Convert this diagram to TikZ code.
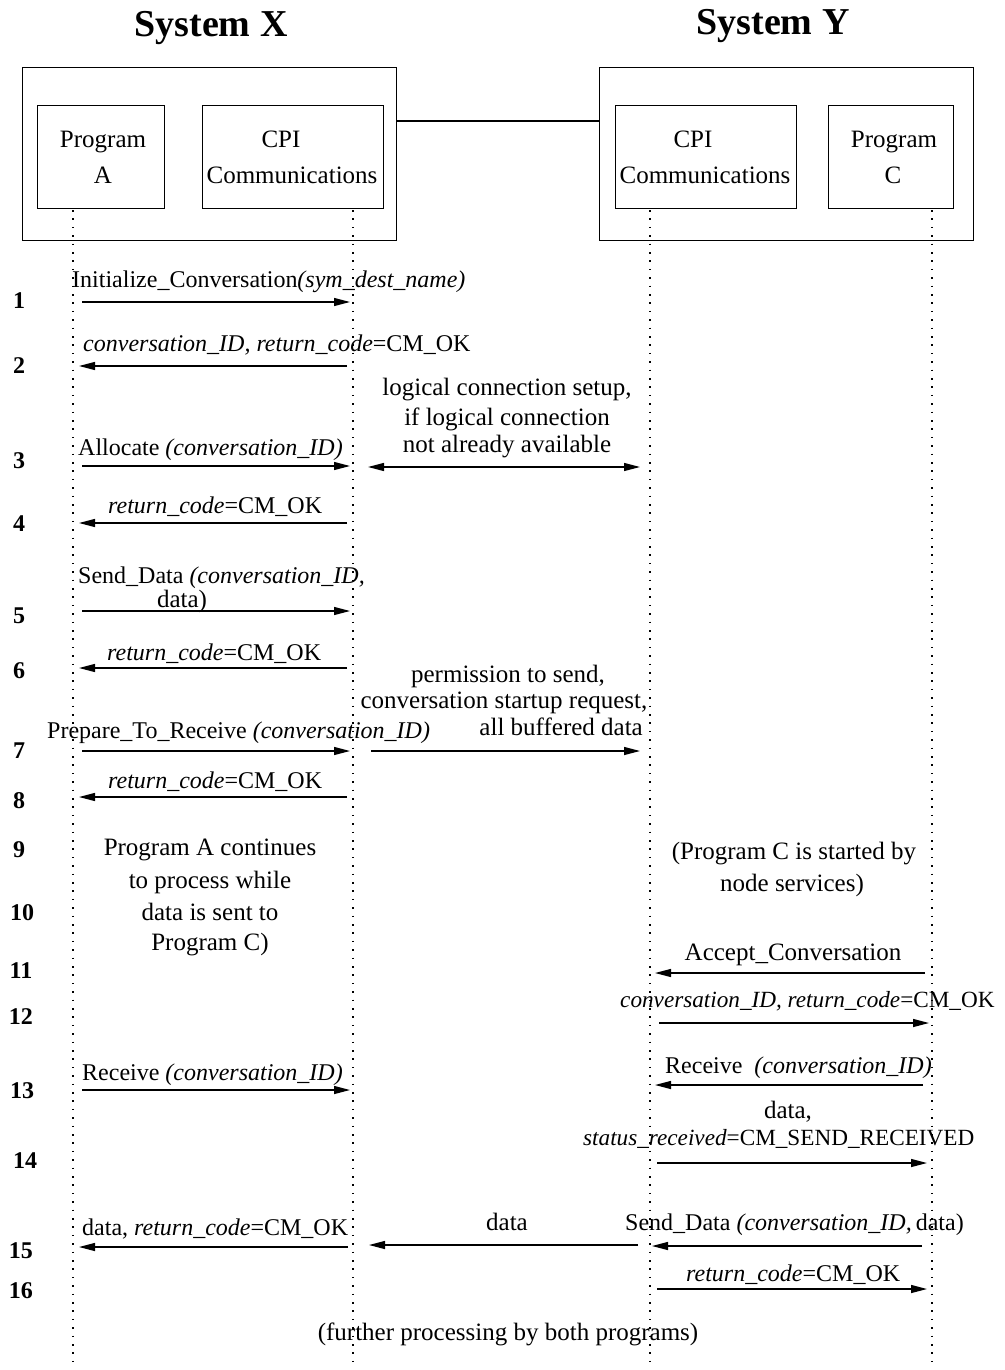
\documentclass[tikz,border=0pt]{standalone}
\usepackage{fontspec}
\setmainfont{Liberation Serif}
\usetikzlibrary{arrows.meta,calc}
\tikzset{
  lbl/.style={font=\fontsize{24}{29}\selectfont, inner sep=0pt, anchor=base},
  lblw/.style={lbl, anchor=base west},
  lble/.style={lbl, anchor=base east},
  up/.style={font=\fontsize{25}{29}\selectfont},
  num/.style={font=\bfseries\fontsize{24}{24}\selectfont, inner sep=0pt, anchor=base},
  ttl/.style={font=\bfseries\fontsize{38}{38}\selectfont, inner sep=0pt, anchor=base},
  box/.style={draw, line width=1.3pt, inner sep=0pt, anchor=north west},
  life/.style={line width=1.6pt, dash pattern=on 1.6pt off 6.8pt},
  msg/.style={line width=1.3pt, -{Triangle[length=16pt,width=8pt]}},
  msgboth/.style={line width=1.3pt, {Triangle[length=16pt,width=8pt]}-{Triangle[length=16pt,width=8pt]}},
  link/.style={line width=1.3pt}
}
\begin{document}
\begin{tikzpicture}[x=1pt,y=-1pt]
\useasboundingbox (0,0) rectangle (1004,1370);

% titles
\node[ttl] (tX) at (211,37) {System X};
\node[ttl] (tY) at (773,35) {System Y};

% system boxes
\node[box, minimum width=374pt, minimum height=173pt] (sysX) at (22,67) {};
\node[box, minimum width=374pt, minimum height=173pt] (sysY) at (599,67) {};
\draw[link] ($(sysX.north east)+(0,54)$) -- ($(sysY.north west)+(0,54)$);

% inner boxes
\node[box, minimum width=127pt, minimum height=103pt] (pA) at (37,105) {};
\node[box, minimum width=181pt, minimum height=103pt] (cX) at (202,105) {};
\node[box, minimum width=181pt, minimum height=103pt] (cY) at (615,105) {};
\node[box, minimum width=125pt, minimum height=103pt] (pC) at (828,105) {};

\node[lbl,up] (pA1) at (103,147) {Program};
\node[lbl,up] (pA2) at (103,183) {A};
\node[lbl,up] (cX1) at (281,147) {CPI};
\node[lbl,up] (cX2) at (292,183) {Communications};
\node[lbl,up] (cY1) at (693,147) {CPI};
\node[lbl,up] (cY2) at (705,183) {Communications};
\node[lbl,up] (pC1) at (894,147) {Program};
\node[lbl,up] (pC2) at (893,183) {C};

% lifelines
\coordinate (LAt) at (73,210);  \coordinate (LAb) at (73,1366);
\coordinate (LXt) at (353,210); \coordinate (LXb) at (353,1366);
\coordinate (LYt) at (650,210); \coordinate (LYb) at (650,1366);
\coordinate (LCt) at (932,210); \coordinate (LCb) at (932,1366);
\draw[life] (LAt) -- (LAb);
\draw[life] (LXt) -- (LXb);
\draw[life] (LYt) -- (LYb);
\draw[life] (LCt) -- (LCb);

% step numbers
\node[num] (n1) at (19,308) {1};
\node[num] (n2) at (19,373) {2};
\node[num] (n3) at (19,468) {3};
\node[num] (n4) at (19,531) {4};
\node[num] (n5) at (19,623) {5};
\node[num] (n6) at (19,678) {6};
\node[num] (n7) at (19,758) {7};
\node[num] (n8) at (19,808) {8};
\node[num] (n9) at (19,857) {9};
\node[num] (n10) at (22,920) {10};
\node[num] (n11) at (21,978) {11};
\node[num] (n12) at (21,1024) {12};
\node[num] (n13) at (22,1098) {13};
\node[num] (n14) at (25,1168) {14};
\node[num] (n15) at (21,1258) {15};
\node[num] (n16) at (21,1298) {16};

% arrow end points
\coordinate (a1s) at (82,302);   \coordinate (a1e) at (350,302);
\coordinate (a2s) at (347,366);  \coordinate (a2e) at (79,366);
\coordinate (a3s) at (82,466);   \coordinate (a3e) at (350,466);
\coordinate (b3s) at (368,467);  \coordinate (b3e) at (640,467);
\coordinate (a4s) at (347,523);  \coordinate (a4e) at (79,523);
\coordinate (a5s) at (82,611);   \coordinate (a5e) at (350,611);
\coordinate (a6s) at (347,668);  \coordinate (a6e) at (79,668);
\coordinate (a7s) at (82,751);   \coordinate (a7e) at (350,751);
\coordinate (b7s) at (371,751);  \coordinate (b7e) at (640,751);
\coordinate (a8s) at (347,797);  \coordinate (a8e) at (79,797);
\coordinate (a11s) at (925,973); \coordinate (a11e) at (655,973);
\coordinate (a12s) at (659,1023);\coordinate (a12e) at (929,1023);
\coordinate (a13s) at (82,1090); \coordinate (a13e) at (350,1090);
\coordinate (b13s) at (923,1085);\coordinate (b13e) at (655,1085);
\coordinate (a14s) at (657,1163);\coordinate (a14e) at (927,1163);
\coordinate (c15s) at (922,1246);\coordinate (c15e) at (652,1246);
\coordinate (b15s) at (638,1245);\coordinate (b15e) at (369,1245);
\coordinate (a15s) at (348,1247);\coordinate (a15e) at (79,1247);
\coordinate (a16s) at (657,1289);\coordinate (a16e) at (927,1289);

\draw[msg] (a1s) -- (a1e);
\draw[msg] (a2s) -- (a2e);
\draw[msg] (a3s) -- (a3e);
\draw[msgboth] (b3s) -- (b3e);
\draw[msg] (a4s) -- (a4e);
\draw[msg] (a5s) -- (a5e);
\draw[msg] (a6s) -- (a6e);
\draw[msg] (a7s) -- (a7e);
\draw[msg] (b7s) -- (b7e);
\draw[msg] (a8s) -- (a8e);
\draw[msg] (a11s) -- (a11e);
\draw[msg] (a12s) -- (a12e);
\draw[msg] (a13s) -- (a13e);
\draw[msg] (b13s) -- (b13e);
\draw[msg] (a14s) -- (a14e);
\draw[msg] (c15s) -- (c15e);
\draw[msg] (b15s) -- (b15e);
\draw[msg] (a15s) -- (a15e);
\draw[msg] (a16s) -- (a16e);

% labels
\node[lblw] (t1) at (72,287) {Initialize\_Conversation\textit{(sym\_dest\_name)}};
\node[lblw] (t2) at (83,351) {\textit{conversation\_ID, return\_code}=CM\_OK};
\node[lbl,up] (m1a) at (507,395) {logical connection setup,};
\node[lbl,up] (m1b) at (507,425) {if logical connection};
\node[lbl,up] (m1c) at (507,452) {not already available};
\node[lblw] (t3) at (78,455) {Allocate \textit{(conversation\_ID)}};
\node[lblw] (t4) at (108,513) {\textit{return\_code}=CM\_OK};
\node[lblw] (t5a) at (78,583) {Send\_Data \textit{(conversation\_ID,}};
\node[lbl,up] (t5b) at (182,607) {data)};
\node[lblw] (t6) at (107,660) {\textit{return\_code}=CM\_OK};
\node[lbl,up] (m2a) at (508,682) {permission to send,};
\node[lbl,up] (m2b) at (504,708) {conversation startup request,};
\node[lble,up] (m2c) at (643,735) {all buffered data};
\node[lblw] (t7) at (47,738) {Prepare\_To\_Receive \textit{(conversation\_ID)}};
\node[lblw] (t8) at (108,788) {\textit{return\_code}=CM\_OK};
\node[lbl,up] (pa1) at (210,855) {Program A continues};
\node[lbl,up] (pa2) at (210,888) {to process while};
\node[lbl,up] (pa3) at (210,920) {data is sent to};
\node[lbl,up] (pa4) at (210,950) {Program C)};
\node[lbl,up] (pc1) at (794,859) {(Program C is started by};
\node[lbl,up] (pc2) at (792,891) {node services)};
\node[lbl,up] (t11) at (793,960) {Accept\_Conversation};
\node[lblw, font=\fontsize{23.2}{28}\selectfont] (t12) at (620,1007) {\textit{conversation\_ID, return\_code}=CM\_OK};
\node[lblw] (t13) at (82,1080) {Receive \textit{(conversation\_ID)}};
\node[lblw] (t13b) at (665,1073) {Receive\ \ \textit{(conversation\_ID)}};
\node[lbl,up] (t14a) at (788,1118) {data,};
\node[lblw, font=\fontsize{23.2}{28}\selectfont] (t14b) at (583,1145) {\textit{status\_received}=CM\_SEND\_RECEIVED};
\node[lblw] (t15a) at (82,1235) {data, \textit{return\_code}=CM\_OK};
\node[lbl,up] (t15b) at (507,1230) {data};
\node[lblw] (t15c) at (625,1230) {Send\_Data \textit{(conversation\_ID,}\,data)};
\node[lblw] (t16) at (686,1281) {\textit{return\_code}=CM\_OK};
\node[lbl,up] (tend) at (508,1340) {(further processing by both programs)};
\end{tikzpicture}
\end{document}
